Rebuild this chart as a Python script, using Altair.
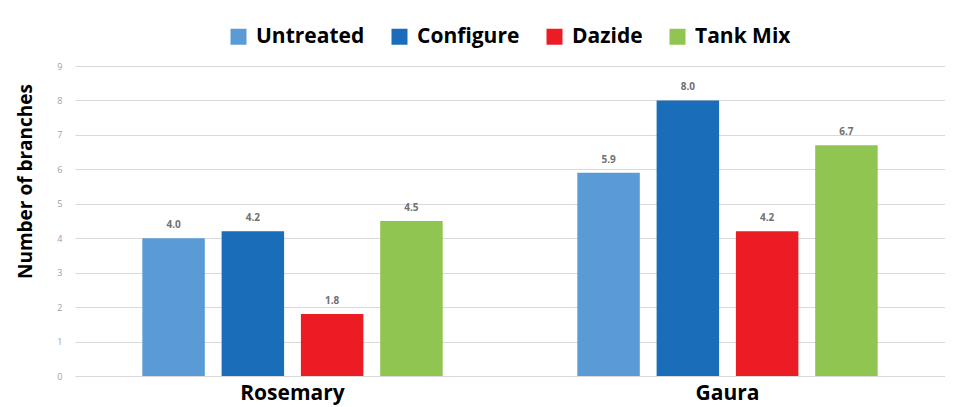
import altair as alt
import pandas as pd

plants = ["Rosemary", "Gaura"]
treatments = ["Untreated", "Configure", "Dazide", "Tank Mix"]
rosemary = [4.0, 4.2, 1.8, 4.5]
gaura = [5.9, 8.0, 4.2, 6.7]
colors = ["#5b9bd5", "#1a6db8", "#ec1c24", "#8fc550"]
y_ticks = [0, 1, 2, 3, 4, 5, 6, 7, 8, 9]

rows = []
for plant, vals in zip(plants, [rosemary, gaura]):
    for t, v in zip(treatments, vals):
        rows.append({"plant": plant, "treatment": t, "value": v})
df = pd.DataFrame(rows)

FONT = "Open Sans"

base = alt.Chart(df).encode(
    x=alt.X("plant:N", sort=plants, title=None,
            scale=alt.Scale(paddingInner=0, paddingOuter=0),
            axis=alt.Axis(labelAngle=0, labelFontSize=21, labelFontWeight="bold",
                          labelColor="#000000", labelFont=FONT, labelPadding=6,
                          ticks=False, domain=False, grid=False)),
    xOffset=alt.XOffset("treatment:N", sort=treatments,
                        scale=alt.Scale(paddingInner=0.212, paddingOuter=0.849)),
    y=alt.Y("value:Q", title="Number of branches",
            scale=alt.Scale(domain=[0, 9], nice=False),
            axis=alt.Axis(values=y_ticks, labelOverlap=False,
                          grid=True, gridColor="#d9d9d9", gridWidth=1,
                          domain=False, ticks=False, labelFontSize=9,
                          labelColor="#a0a0a0", labelFont=FONT, labelPadding=13,
                          titleFontSize=19, titleFontWeight="bold", titleFont=FONT,
                          titleColor="#000000", titleAngle=-90, titleX=-44, titleY=115,
                          titleAlign="center", titleBaseline="alphabetic")),
)

bars = base.mark_bar().encode(
    color=alt.Color("treatment:N", sort=treatments,
                    scale=alt.Scale(domain=treatments, range=colors),
                    legend=alt.Legend(title=None, orient="none", direction="horizontal",
                                      legendX=153, legendY=-40, padding=0,
                                      symbolType="square", symbolSize=256,
                                      symbolStrokeWidth=0, symbolOpacity=1,
                                      labelFontSize=21, labelFontWeight="bold",
                                      labelFont=FONT, labelColor="#000000",
                                      labelOffset=7, columnPadding=24)),
)

labels = base.mark_text(baseline="bottom", dy=-8, fontSize=10,
                        fontWeight="bold", color="#707070", font=FONT).encode(
    text=alt.Text("value:Q", format=".1f"),
)

chart = alt.layer(bars, labels).properties(
    width=870, height=310,
    background="#ffffff",
    autosize=alt.AutoSizeParams(type="none"),
    padding={"left": 67, "top": 58, "right": 0, "bottom": 31},
).configure_view(stroke=None, strokeWidth=0)

chart.save("out.html", embed_options={"renderer": "svg", "actions": False})
